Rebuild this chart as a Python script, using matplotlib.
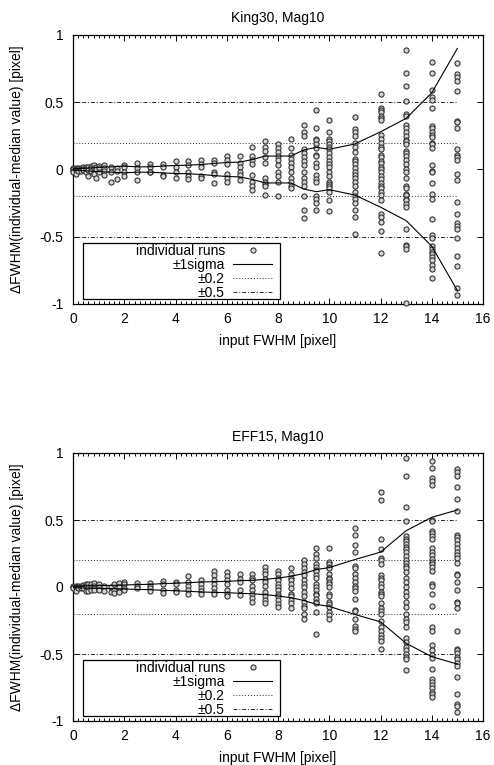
import matplotlib
matplotlib.use("Agg")
import matplotlib.pyplot as plt
from matplotlib.patches import Rectangle
from matplotlib.ticker import MultipleLocator, FuncFormatter

plt.rcParams['font.family'] = ['Liberation Sans', 'DejaVu Sans']
plt.rcParams['font.size'] = 10

# ---------------- data: King30, Mag10 ----------------
king_x = [0.0, 0.1, 0.2, 0.3, 0.4, 0.5, 0.6, 0.7, 0.8, 0.9, 1.0, 1.2, 1.5, 1.7, 2.0,
          2.5, 3.0, 3.5, 4.0, 4.5, 5.0, 5.5, 6.0, 6.5, 7.0, 7.5, 8.0, 8.5, 9.0, 9.5,
          10.0, 11.0, 12.0, 13.0, 14.0, 15.0]
king_y = [
    [0.008, 0.0, -0.01, -0.02],
    [0.01, 0.0, -0.005, -0.03],
    [0.012, 0.005, -0.008],
    [0.01, 0.0, -0.01],
    [0.015, 0.005, -0.005],
    [0.02, 0.0, -0.015],
    [0.015, -0.005, -0.045],
    [0.025, 0.01, -0.01],
    [0.03, 0.01, -0.02, -0.03],
    [0.02, 0.0, -0.06],
    [0.025, 0.01, -0.02],
    [0.03, 0.01, -0.01, -0.04],
    [0.02, -0.02, -0.09],
    [0.01, -0.01, -0.07],
    [0.03, 0.02, -0.02, -0.05],
    [0.05, 0.01, -0.02, -0.08],
    [0.04, 0.02, -0.02, -0.02],
    [0.04, 0.02, -0.04, -0.05],
    [0.06, 0.02, -0.02, -0.06],
    [0.06, 0.03, -0.02, -0.05, -0.07],
    [0.07, 0.04, 0.02, -0.05, -0.06],
    [0.07, 0.05, -0.02, -0.03, -0.10],
    [0.10, 0.07, 0.04, -0.03, -0.06, -0.09],
    [0.10, 0.05, 0.02, -0.02, -0.04, -0.08],
    [0.17, 0.10, 0.07, 0.04, -0.04, -0.09, -0.12, -0.15],
    [0.21, 0.17, 0.14, 0.09, 0.05, -0.06, -0.09, -0.11, -0.12, -0.19],
    [0.19, 0.16, 0.13, 0.10, 0.07, 0.03, -0.02, -0.05, -0.09, -0.20],
    [0.23, 0.16, 0.11, 0.08, 0.05, 0.02, -0.02, -0.06, -0.09, -0.12, -0.14],
    [0.33, 0.28, 0.25, 0.15, 0.12, 0.09, 0.06, 0.03, -0.02, -0.06, -0.09, -0.12,
     -0.20, -0.30, -0.36],
    [0.44, 0.31, 0.23, 0.22, 0.19, 0.16, 0.11, 0.10, 0.05, 0.02, -0.04, -0.07,
     -0.09, -0.20, -0.22, -0.25, -0.30],
    [0.37, 0.28, 0.23, 0.21, 0.19, 0.17, 0.15, 0.12, 0.09, 0.06, 0.04, 0.02,
     -0.02, -0.05, -0.09, -0.11, -0.12, -0.14, -0.17, -0.23, -0.31],
    [0.39, 0.30, 0.28, 0.25, 0.20, 0.17, 0.13, 0.08, 0.06, 0.04, 0.01, -0.02,
     -0.04, -0.06, -0.09, -0.12, -0.17, -0.20, -0.22, -0.25, -0.30, -0.35, -0.48],
    [0.56, 0.46, 0.44, 0.43, 0.40, 0.38, 0.37, 0.26, 0.23, 0.20, 0.17, 0.15,
     0.11, 0.09, 0.06, 0.05, 0.02, 0.0, -0.02, -0.05, -0.07, -0.10, -0.12,
     -0.14, -0.17, -0.19, -0.23, -0.33, -0.35, -0.39, -0.46, -0.62],
    [0.89, 0.72, 0.62, 0.51, 0.41, 0.40, 0.33, 0.31, 0.28, 0.25, 0.22, 0.21,
     0.19, 0.14, 0.12, 0.10, 0.07, 0.04, 0.0, -0.02, -0.06, -0.12, -0.14,
     -0.18, -0.19, -0.22, -0.23, -0.26, -0.28, -0.44, -0.56, -0.57, -0.59, -0.995],
    [0.80, 0.72, 0.59, 0.54, 0.52, 0.46, 0.32, 0.31, 0.28, 0.26, 0.24, 0.20,
     0.19, 0.16, 0.03, -0.01, -0.02, -0.10, -0.18, -0.22, -0.37, -0.49, -0.51,
     -0.57, -0.59, -0.61, -0.63, -0.65, -0.67, -0.71, -0.74, -0.81],
    [0.79, 0.71, 0.69, 0.66, 0.58, 0.36, 0.35, 0.31, 0.15, 0.11, 0.09, 0.07,
     -0.03, -0.08, -0.24, -0.33, -0.40, -0.42, -0.44, -0.51, -0.64, -0.72,
     -0.88, -0.93],
]
king_sig_x = [0, 0.5, 1, 1.5, 2, 2.5, 3, 3.5, 4, 4.5, 5, 5.5, 6, 6.5, 7, 7.5, 8,
              8.5, 9, 9.5, 10, 11, 12, 13, 14, 15]
king_sig = [0.005, 0.01, 0.015, 0.02, 0.025, 0.02, 0.02, 0.025, 0.03, 0.032,
            0.037, 0.045, 0.052, 0.055, 0.074, 0.10, 0.10, 0.10, 0.145, 0.165,
            0.15, 0.19, 0.28, 0.38, 0.57, 0.90]

# ---------------- data: EFF15, Mag10 ----------------
eff_x = [0.0, 0.1, 0.2, 0.3, 0.4, 0.5, 0.6, 0.7, 0.8, 1.0, 1.2, 1.5, 1.6, 1.8, 2.0,
         2.5, 3.0, 3.5, 4.0, 4.5, 5.0, 5.5, 6.0, 6.5, 7.0, 7.5, 8.0, 8.5, 9.0, 9.5,
         10.0, 11.0, 12.0, 13.0, 14.0, 15.0]
eff_y = [
    [0.01, 0.0, -0.01],
    [0.008, 0.0, -0.03],
    [0.01, 0.0, -0.01],
    [0.01, -0.005],
    [0.015, 0.0, -0.01],
    [0.02, 0.005, -0.03],
    [0.02, 0.0, -0.03],
    [0.025, 0.0, -0.02],
    [0.03, 0.01, -0.005, -0.025],
    [0.025, 0.0, -0.02],
    [0.01, -0.03],
    [0.0, -0.04],
    [0.02, -0.025, -0.045],
    [0.03, 0.0, -0.04],
    [0.04, 0.02, -0.005, -0.02],
    [0.03, 0.01, -0.01],
    [0.03, 0.01, -0.01, -0.03],
    [0.045, 0.02, -0.02, -0.045],
    [0.04, 0.02, -0.02, -0.04],
    [0.08, 0.04, 0.01, -0.02, -0.05],
    [0.05, 0.02, -0.01, -0.03, -0.05],
    [0.12, 0.09, 0.05, 0.02, -0.01, -0.04, -0.05],
    [0.11, 0.08, 0.05, 0.02, -0.02, -0.05, -0.07],
    [0.10, 0.06, 0.04, -0.02, -0.06],
    [0.10, 0.07, 0.05, 0.01, -0.02, -0.05, -0.08, -0.11],
    [0.15, 0.12, 0.10, 0.06, 0.04, 0.01, -0.04, -0.07, -0.10, -0.12],
    [0.12, 0.10, 0.07, 0.05, 0.02, 0.0, -0.02, -0.05, -0.07, -0.10, -0.13, -0.15],
    [0.14, 0.10, 0.07, 0.05, 0.02, -0.01, -0.05, -0.07, -0.10, -0.12, -0.16],
    [0.20, 0.17, 0.14, 0.11, 0.09, 0.05, 0.02, 0.0, -0.04, -0.07, -0.11, -0.14,
     -0.16, -0.20, -0.24],
    [0.29, 0.25, 0.22, 0.17, 0.15, 0.13, 0.12, 0.09, 0.07, 0.02, 0.0, -0.02,
     -0.05, -0.06, -0.09, -0.11, -0.12, -0.19, -0.35],
    [0.29, 0.19, 0.17, 0.15, 0.14, 0.10, 0.07, 0.06, 0.04, 0.02, 0.0, -0.05,
     -0.07, -0.11, -0.13, -0.15, -0.19, -0.21, -0.24],
    [0.44, 0.39, 0.31, 0.26, 0.16, 0.14, 0.10, 0.07, 0.04, 0.005, -0.01, -0.03,
     -0.09, -0.17, -0.18, -0.24, -0.29, -0.31, -0.33],
    [0.71, 0.65, 0.36, 0.28, 0.22, 0.20, 0.17, 0.09, 0.07, 0.05, 0.02, 0.0,
     -0.04, -0.05, -0.07, -0.12, -0.16, -0.18, -0.20, -0.25, -0.30, -0.33,
     -0.36, -0.38, -0.40, -0.46],
    [0.96, 0.83, 0.60, 0.49, 0.38, 0.36, 0.34, 0.32, 0.30, 0.28, 0.26, 0.23,
     0.20, 0.18, 0.16, 0.14, 0.11, 0.07, 0.04, 0.0, -0.04, -0.07, -0.11, -0.15,
     -0.20, -0.24, -0.26, -0.30, -0.38, -0.41, -0.45, -0.47, -0.50, -0.52,
     -0.54, -0.62],
    [0.94, 0.89, 0.81, 0.79, 0.76, 0.50, 0.49, 0.42, 0.40, 0.38, 0.36, 0.29,
     0.26, 0.24, 0.21, 0.19, 0.17, 0.15, 0.12, 0.02, 0.005, -0.05, -0.14, -0.30,
     -0.33, -0.43, -0.47, -0.51, -0.53, -0.61, -0.69, -0.71, -0.73, -0.75,
     -0.78, -0.80, -0.82],
    [0.88, 0.86, 0.83, 0.75, 0.66, 0.57, 0.39, 0.37, 0.35, 0.32, 0.29, 0.26,
     0.24, 0.22, 0.18, 0.10, 0.09, 0.04, -0.02, -0.11, -0.12, -0.16, -0.33,
     -0.46, -0.47, -0.49, -0.52, -0.54, -0.57, -0.59, -0.67, -0.80, -0.87,
     -0.89, -0.93],
]
eff_sig_x = [0, 0.5, 1, 1.5, 2, 2.5, 3, 3.5, 4, 4.5, 5, 5.5, 6, 6.5, 7, 7.5, 8,
             8.5, 9, 9.5, 10, 11, 12, 13, 14, 15]
eff_sig = [0.005, 0.008, 0.01, 0.012, 0.015, 0.018, 0.02, 0.025, 0.028, 0.032,
           0.037, 0.04, 0.042, 0.047, 0.05, 0.057, 0.067, 0.08, 0.10, 0.13,
           0.145, 0.205, 0.26, 0.42, 0.52, 0.575]

titles = ["King30, Mag10", "EFF15, Mag10"]
legend_labels = ["individual runs", "\u00b11sigma", "\u00b10.2", "\u00b10.5"]
ref_levels = [0.2, 0.5]
line_x_range = [0, 15]

fig = plt.figure(figsize=(4.94, 7.65), dpi=100)
W, H = 494, 765


def make_axes(top_px, bottom_px):
    left, right = 73, 483
    return fig.add_axes([left / W, 1 - bottom_px / H, (right - left) / W,
                         (bottom_px - top_px) / H])


panels = [
    (make_axes(35, 304), titles[0], king_x, king_y, king_sig_x, king_sig),
    (make_axes(453, 721), titles[1], eff_x, eff_y, eff_sig_x, eff_sig),
]

fmt = FuncFormatter(lambda v, p: ("%g" % v).replace("\u2212", "-"))

for ax, title, xs, ys, sx, sv in panels:
    px, py = [], []
    for xv, col in zip(xs, ys):
        for yv in col:
            px.append(xv)
            py.append(yv)
    pts, = ax.plot(px, py, ls='none', marker='o', ms=3.7, mfc='#d4d4d4',
                   mec='#2a2a2a', mew=0.75, zorder=3, clip_on=False)
    sig, = ax.plot(sx, sv, color='black', lw=0.8, zorder=4)
    ax.plot(sx, [-v for v in sv], color='black', lw=0.8, zorder=4)
    d02 = d05 = None
    for lev in ref_levels:
        for s in (1, -1):
            if lev == 0.2:
                d02, = ax.plot(line_x_range, [s * lev] * 2, color='#222222',
                               lw=0.7, ls=(0, (1, 2)), zorder=2)
            else:
                d05, = ax.plot(line_x_range, [s * lev] * 2, color='#222222',
                               lw=0.7, ls=(0, (4, 2, 1, 2)), zorder=2)
    ax.set_xlim(0, 16)
    ax.set_ylim(-1, 1)
    ax.xaxis.set_major_locator(MultipleLocator(2))
    ax.xaxis.set_minor_locator(MultipleLocator(0.2))
    ax.yaxis.set_major_locator(MultipleLocator(0.5))
    ax.yaxis.set_major_formatter(fmt)
    ax.xaxis.set_major_formatter(fmt)
    ax.tick_params(which='both', direction='in', top=True, right=True,
                   width=0.7, labelsize=10)
    ax.tick_params(which='major', length=4)
    ax.tick_params(which='minor', length=2)
    ax.tick_params(axis='x', pad=6)
    ax.tick_params(axis='y', pad=7)
    for sp in ax.spines.values():
        sp.set_linewidth(0.9)
    ax.set_title(title, fontsize=10, pad=9)
    ax.set_xlabel("input FWHM [pixel]", fontsize=10)
    ax.set_ylabel("\u0394FWHM(individual-median value) [pixel]", fontsize=10)
    ax.yaxis.set_label_coords(-0.1195, 0.5)
    ax.xaxis.set_label_coords(0.5, -0.112)

    # legend frame (gnuplot style box)
    x0, x1 = (83 - 73) / 410, (280 - 73) / 410
    y0, y1 = 5 / 269, 61 / 269
    ax.add_patch(Rectangle((x0, y0), x1 - x0, y1 - y0, transform=ax.transAxes,
                           facecolor='white', edgecolor='black', lw=0.9,
                           zorder=5))
    leg = ax.legend([pts, sig, d02, d05], legend_labels, loc='lower right',
                    bbox_to_anchor=(x1 - 8 / 410, y0 - 1 / 269),
                    markerfirst=False, frameon=False, borderpad=0,
                    borderaxespad=0, handlelength=2.8, handletextpad=0.6,
                    labelspacing=0.0, fontsize=10, numpoints=1)
    leg.set_zorder(6)

fig.savefig("out.png", dpi=100)
